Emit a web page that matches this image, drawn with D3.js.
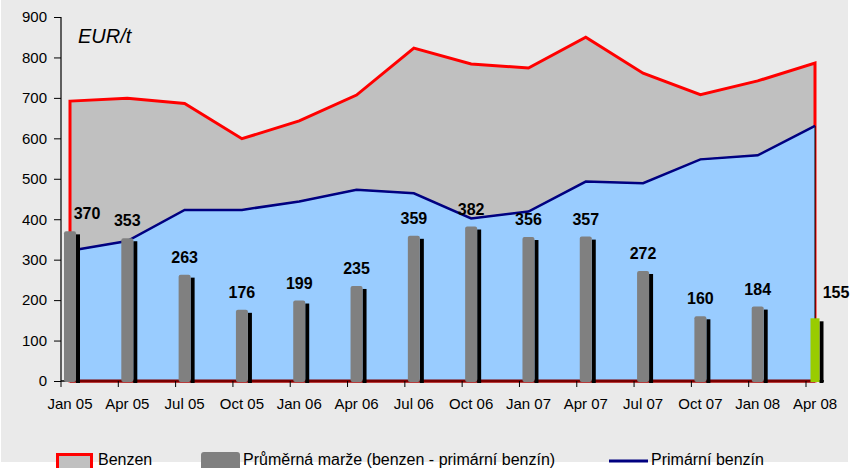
<!DOCTYPE html>
<html>
<head>
<meta charset="utf-8">
<script src="https://cdn.jsdelivr.net/npm/d3@7"></script>
<style>
  html, body { margin: 0; padding: 0; background: #ffffff; }
  svg { display: block; font-family: "Liberation Sans", Arial, sans-serif; }
  svg text { font-family: "Liberation Sans", Arial, sans-serif; }
</style>
</head>
<body>
<svg id="chart" width="852" height="468"></svg>
<script>
const categories = ["Jan 05","Apr 05","Jul 05","Oct 05","Jan 06","Apr 06","Jul 06","Oct 06","Jan 07","Apr 07","Jul 07","Oct 07","Jan 08","Apr 08"];
const benzen = [692, 699, 686, 599, 643, 707, 823, 784, 774, 850, 761, 708, 742, 786];
const marze = [370, 353, 263, 176, 199, 235, 359, 382, 356, 357, 272, 160, 184, 155];
const primarni = [322, 346, 423, 423, 444, 473, 464, 402, 419, 493, 489, 548, 558, 631];
const yTicks = [0, 100, 200, 300, 400, 500, 600, 700, 800, 900];
const unitLabel = "EUR/t";
const legendLabels = ["Benzen", "Průměrná marže (benzen - primární benzín)", "Primární benzín"];

const FONT = "'Liberation Sans', Arial, sans-serif";
const svg = d3.select("#chart");

// background
svg.append("rect").attr("x", 1).attr("y", 0).attr("width", 847).attr("height", 462).attr("fill", "#EAEAEA");

const x = d3.scalePoint().domain(categories).range([70, 815]);
const y = d3.scaleLinear().domain([0, 900]).range([381, 17]);

const data = categories.map((c, i) => ({ c, b: benzen[i], m: marze[i], p: primarni[i], i }));

// Benzen area
const areaB = d3.area().x(d => x(d.c)).y0(y(0)).y1(d => y(d.b));
svg.append("path").datum(data).attr("d", areaB)
  .attr("fill", "#C0C0C0").attr("stroke", "#FF0000").attr("stroke-width", 3).attr("stroke-linejoin", "miter");

// Primary benzin area
const areaP = d3.area().x(d => x(d.c)).y0(y(0)).y1(d => y(d.p));
svg.append("path").datum(data).attr("d", areaP)
  .attr("fill", "#99CCFF").attr("stroke", "#000000").attr("stroke-width", 1);
const lineP = d3.line().x(d => x(d.c)).y(d => y(d.p));
svg.append("path").datum(data).attr("d", lineP)
  .attr("fill", "none").attr("stroke", "#000080").attr("stroke-width", 2.5);

// axes
const yAxis = d3.axisLeft(y).tickValues(yTicks).tickSize(7).tickPadding(7).tickFormat(d3.format("d"));
const gy = svg.append("g").attr("transform", "translate(61,0)").call(yAxis);
gy.attr("font-family", FONT);
gy.select(".domain").attr("stroke", "#000").attr("stroke-width", 1.2).attr("d", `M0,${y(900)}V${y(0)}`);
gy.selectAll(".tick line").attr("stroke", "#000");
gy.selectAll(".tick text").attr("font-size", 15).attr("fill", "#000").attr("font-family", FONT);

// x axis line and ticks
svg.append("line").attr("x1", 61).attr("x2", 824).attr("y1", y(0)).attr("y2", y(0)).attr("stroke", "#000").attr("stroke-width", 1.5);
svg.append("line").attr("x1", x(categories[0])).attr("x2", x(categories[categories.length - 1])).attr("y1", y(0)).attr("y2", y(0))
  .attr("stroke", "#7A0000").attr("stroke-width", 3.2);
svg.append("g").selectAll("line").data(categories).join("line")
  .attr("x1", d => x(d) - 9).attr("x2", d => x(d) - 9)
  .attr("y1", y(0)).attr("y2", y(0) + 6).attr("stroke", "#000").attr("stroke-width", 1);
svg.append("g").selectAll("text").data(categories).join("text")
  .attr("x", d => x(d)).attr("y", 409).attr("text-anchor", "middle")
  .attr("font-size", 15).attr("font-family", FONT).attr("fill", "#000").text(d => d);

// bars
const last = data.length - 1;
const bars = svg.append("g");
bars.selectAll("rect.shadow").data(data).join("rect").attr("class", "shadow")
  .attr("x", d => x(d.c) + (d.i === last ? 4.5 : 6))
  .attr("width", 4)
  .attr("y", d => y(d.m) + 3)
  .attr("height", d => y(0) - y(d.m) - 1)
  .attr("fill", "#000");
bars.selectAll("rect.bar").data(data).join("rect").attr("class", "bar")
  .attr("x", d => x(d.c) - (d.i === last ? 4.5 : 6))
  .attr("width", d => d.i === last ? 9 : 12)
  .attr("y", d => y(d.m))
  .attr("height", d => y(0) - y(d.m) + 1)
  .attr("rx", d => d.i === last ? 0 : 2)
  .attr("fill", d => d.i === last ? "#99CC00" : "#808080");

// bar labels
svg.append("g").selectAll("text").data(data).join("text")
  .attr("x", d => x(d.c) + (d.i === 0 ? 17 : d.i === last ? 21 : 0))
  .attr("y", d => y(d.m) - (d.i === last ? 20 : 12))
  .attr("text-anchor", "middle").attr("font-size", 16).attr("font-weight", "bold")
  .attr("font-family", FONT).attr("fill", "#000")
  .text(d => d.m);

// unit label
svg.append("text").attr("x", 78).attr("y", 43).attr("font-size", 20).attr("font-style", "italic")
  .attr("font-family", FONT).attr("fill", "#000").text(unitLabel);

// legend
const lg = svg.append("g").attr("font-family", FONT);
lg.append("rect").attr("x", 57.5).attr("y", 454.5).attr("width", 34).attr("height", 16)
  .attr("fill", "#C0C0C0").attr("stroke", "#FF0000").attr("stroke-width", 3);
lg.append("text").attr("x", 98).attr("y", 465).attr("font-size", 16).attr("fill", "#000").text(legendLabels[0]);
lg.append("rect").attr("x", 201).attr("y", 452).attr("width", 39).attr("height", 18).attr("rx", 3).attr("fill", "#808080");
lg.append("text").attr("x", 243).attr("y", 465).attr("font-size", 16).attr("fill", "#000").text(legendLabels[1]);
lg.append("line").attr("x1", 609).attr("x2", 648).attr("y1", 461).attr("y2", 461).attr("stroke", "#000080").attr("stroke-width", 3);
lg.append("text").attr("x", 651).attr("y", 465).attr("font-size", 16).attr("fill", "#000").text(legendLabels[2]);
</script>
</body>
</html>
